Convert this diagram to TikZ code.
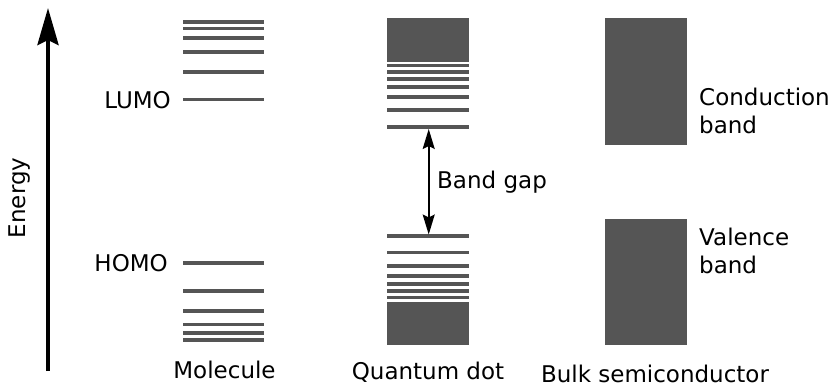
\documentclass[tikz,border=0pt]{standalone}
\usepackage{fontspec}
\setmainfont{DejaVu Sans}
\usetikzlibrary{arrows.meta}
\definecolor{lev}{HTML}{555555}
\begin{document}
\begin{tikzpicture}[x=1pt,y=-1pt,
  level/.style={draw=lev, line width=3.6pt},
  lbl/.style={font=\fontsize{23}{28}\selectfont, inner sep=0pt, align=left}]
\useasboundingbox (0,0) rectangle (832,387);
% Energy axis
\coordinate (ebot) at (48,371);
\coordinate (etop) at (48,8);
\draw[line width=4.2pt, -{Stealth[length=37pt, width=21pt, inset=5pt]}] (ebot) -- (etop);
\node[lbl, rotate=90] (energy) at (20,198) {Energy};
% Molecule
\foreach \y in {22,28.7,38.3,52,72.3,99.7,263.3,290.7,311,324.3,332.7,340}
  \draw[level] (183,\y) -- (264,\y);
\node[lbl, anchor=east] (lumo) at (171,100) {LUMO};
\node[lbl, anchor=east] (homo) at (168,263.5) {HOMO};
\node[lbl] (mol) at (224.5,370) {Molecule};
% Quantum dot
\fill[lev] (387.3,18.3) rectangle (468.7,62.3);
\foreach \y in {65.5,72,79,87.3,97,110.3,127}
  \draw[level] (387.3,\y) -- (468.7,\y);
\foreach \y in {236,252.7,266,275.7,283.7,290.7,297.3}
  \draw[level] (387.3,\y) -- (468.7,\y);
\fill[lev] (387.3,302) rectangle (468.7,345.3);
\coordinate (cbm) at (428.7,129);
\coordinate (vbm) at (428.7,234.5);
\draw[line width=1.8pt, {Stealth[length=20pt, width=12pt, inset=3pt]}-{Stealth[length=20pt, width=12pt, inset=3pt]}] (cbm) -- (vbm);
\node[lbl, anchor=west] (gap) at (437,182) {Band gap};
\node[lbl] (qd) at (428,372.5) {Quantum dot};
% Bulk
\fill[lev] (605,18.3) rectangle (686.7,144.7);
\fill[lev] (605,219) rectangle (686.7,345.3);
\node[lbl, anchor=west] (cb) at (699,111) {Conduction\\band};
\node[lbl, anchor=west] (vb) at (699,251) {Valence\\band};
\node[lbl] (bulk) at (655,373.5) {Bulk semiconductor};
\end{tikzpicture}
\end{document}
